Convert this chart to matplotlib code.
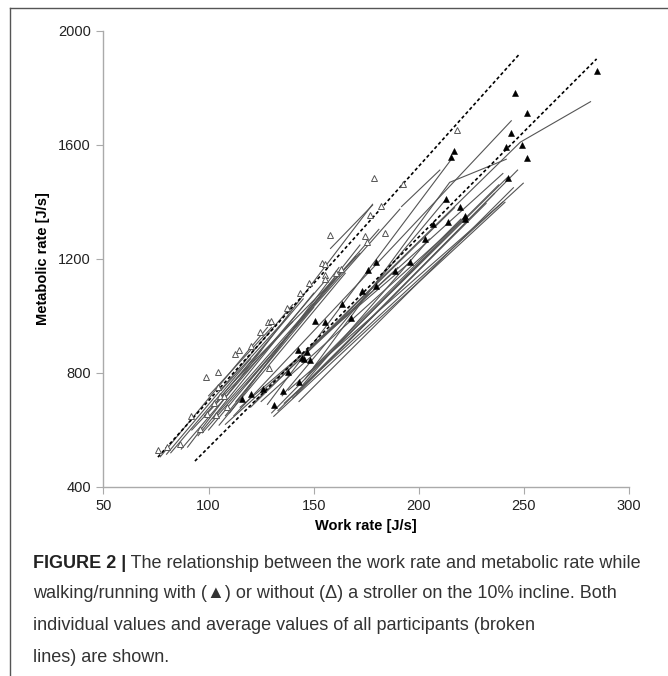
"""Work rate vs metabolic rate, with / without stroller, 10% incline."""

import matplotlib
matplotlib.use("Agg")
import matplotlib.pyplot as plt
from matplotlib.lines import Line2D

plt.rcParams["font.family"] = ["Liberation Sans", "DejaVu Sans"]

# --- 数据(从图上读出来的估计值)---
# 不带婴儿车 (空心三角)
without_x = [76, 80.3, 86.4, 91.6, 96, 98.9, 99.1, 102.5, 103.5, 104.3, 104.3, 105.4,
             107.1, 108.6, 112.4, 114.4, 120.1, 124.5, 128.2, 129.6, 128.5, 137.1,
             143.7, 147.7, 154, 155.6, 155.3, 155.6, 160.7, 162.8, 157.7, 174.4,
             175.4, 176.7, 181.8, 184.1, 178.7, 192.5, 218]
without_y = [530, 541, 552, 648, 603, 785, 656, 694, 651, 802, 750, 720,
             720, 680, 867, 881, 895, 945, 979, 981, 817, 1027,
             1082, 1115, 1186, 1182, 1144, 1129, 1150, 1164, 1285, 1282,
             1258, 1353, 1387, 1291, 1483, 1463, 1653]

# 带婴儿车 (实心三角)
with_x = [115.8, 120, 126, 131, 135.4, 138, 142.3, 143, 144.2, 145.5, 146.7, 148.2,
          150.4, 155.5, 163.5, 167.7, 173.2, 175.9, 179.5, 179.6, 188.7, 196, 203,
          206.9, 213, 214.1, 215.2, 216.9, 219.6, 221.8, 222.2, 241.3, 242.4, 243.8,
          245.7, 249.1, 251.3, 251.3, 284.9]
with_y = [708, 726, 744, 688, 737, 804, 881, 769, 851, 848, 872, 847,
          981, 979, 1041, 992, 1088, 1161, 1105, 1191, 1157, 1191, 1270,
          1323, 1410, 1329, 1559, 1578, 1383, 1340, 1351, 1592, 1485, 1643,
          1783, 1600, 1712, 1554, 1860]

# 平均值(虚线)
mean_without_x = [75.9, 247.5]
mean_without_y = [505, 1916]
mean_with_x = [93.5, 284.6]
mean_with_y = [491, 1902]

# 每个受试者的个体线
lines_without = [
    ([77, 128], [506, 960]),
    ([80, 140], [515, 1040]),
    ([82, 120], [520, 850]),
    ([87, 155], [533, 1120]),
    ([90, 178], [540, 1392]),
    ([95, 150], [580, 1080]),
    ([97, 191], [590, 1375]),
    ([100, 160], [600, 1130]),
    ([102, 181], [640, 1304]),
    ([105, 165], [617, 1150]),
    ([108, 172], [650, 1249]),
    ([98, 125], [650, 880]),
    ([110, 162], [660, 1170]),
    ([113, 150], [700, 1030]),
    ([104, 145], [700, 1060]),
    ([118, 170], [760, 1210]),
    ([92, 140], [600, 980]),
    ([100, 130], [720, 960]),
    ([106, 138], [740, 1000]),
    ([112, 172], [770, 1220]),
    ([158, 178], [1237, 1389]),
]
lines_with = [
    ([108, 240], [620, 1500]),
    ([112, 244], [650, 1685]),
    ([150, 248.3, 281.7], [900, 1610, 1752]),
    ([131, 241], [648, 1399]),
    ([136, 249.7], [694, 1466]),
    ([141.8, 247], [729, 1512]),
    ([125, 222], [700, 1345]),
    ([120, 217], [680, 1380]),
    ([128, 215.2], [690, 1547]),
    ([145, 205], [760, 1270]),
    ([150, 220], [820, 1340]),
    ([115, 196], [680, 1190]),
    ([135, 213], [720, 1410]),
    ([155, 242], [850, 1485]),
    ([130, 222], [660, 1350]),
    ([146, 214.7, 241.6], [780, 1469, 1550]),
    ([138, 240], [740, 1400]),
    ([143, 245], [700, 1450]),
    ([122, 190], [700, 1170]),
    ([191.8, 210], [1384, 1512]),
    ([133, 232], [668, 1395]),
    ([140, 236], [712, 1430]),
    ([148, 238], [800, 1460]),
]

XTICKS = [50, 100, 150, 200, 250, 300]
YTICKS = [400, 800, 1200, 1600, 2000]

CAPTION_HEAD = "FIGURE 2 |"
CAPTION_LINES = [
    " The relationship between the work rate and metabolic rate while",
    "walking/running with (\u25B2) or without (\u0394) a stroller on the 10% incline. Both",
    "individual values and average values of all participants (broken",
    "lines) are shown.",
]

W, H = 668, 676
fig = plt.figure(figsize=(W / 100, H / 100), dpi=100)
ax = fig.add_axes([103.5 / W, 1 - 487 / H, (629 - 103.5) / W, (487 - 31) / H])

for xs, ys in lines_without + lines_with:
    ax.plot(xs, ys, color="#555555", lw=0.8, zorder=2)

ax.plot(mean_without_x, mean_without_y, color="black", lw=1.2,
        linestyle=(0, (2.0, 1.5)), zorder=3)
ax.plot(mean_with_x, mean_with_y, color="black", lw=1.2,
        linestyle=(0, (2.0, 1.5)), zorder=3)

ax.plot(without_x, without_y, linestyle="none", marker="^", ms=5,
        mfc="white", mec="#555555", mew=0.7, zorder=4)
ax.plot(with_x, with_y, linestyle="none", marker="^", ms=5,
        mfc="black", mec="black", mew=0.4, zorder=4)

ax.set_xlim(50, 300)
ax.set_ylim(400, 2000)
ax.set_xticks(XTICKS)
ax.set_yticks(YTICKS)
for s in ("top", "right"):
    ax.spines[s].set_visible(False)
for s in ("left", "bottom"):
    ax.spines[s].set_color("#aaaaaa")
    ax.spines[s].set_linewidth(1.0)
ax.tick_params(direction="out", length=5, color="#aaaaaa", labelsize=10.5,
               labelcolor="#222222", pad=4)
ax.set_xlabel("Work rate [J/s]", fontsize=10.5, fontweight="bold", labelpad=4)
ax.set_ylabel("Metabolic rate [J/s]", fontsize=10.5, fontweight="bold", labelpad=6)

# 外框(上边和左边)
fig.add_artist(Line2D([10 / W, 1], [1 - 8 / H, 1 - 8 / H], color="#555555", lw=1))
fig.add_artist(Line2D([10 / W, 10 / W], [1 - 8 / H, 0], color="#555555", lw=1))

# 图注
cap_font = ["Liberation Sans", "DejaVu Sans"]
line_y = [563, 594, 626, 658]
head = fig.text(33 / W, 1 - line_y[0] / H, CAPTION_HEAD, fontsize=13,
                fontweight="bold", family=cap_font, va="center", ha="left",
                color="#222222")
fig.canvas.draw()
bb = head.get_window_extent(renderer=fig.canvas.get_renderer())
fig.text(bb.x1 / W, 1 - line_y[0] / H, CAPTION_LINES[0], fontsize=13,
         family=cap_font, va="center", ha="left", color="#333333")
for txt, yy in zip(CAPTION_LINES[1:], line_y[1:]):
    fig.text(33 / W, 1 - yy / H, txt, fontsize=13, family=cap_font,
             va="center", ha="left", color="#333333")

fig.savefig("out.png", dpi=100)
